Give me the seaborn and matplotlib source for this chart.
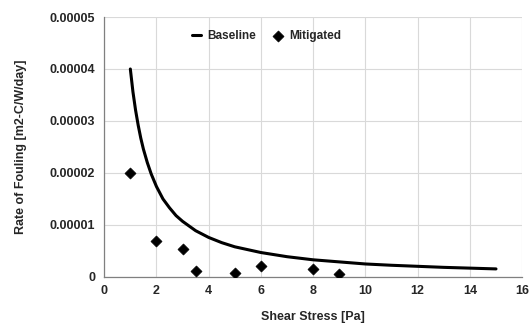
import matplotlib
matplotlib.use("Agg")
import matplotlib.pyplot as plt
import seaborn as sns
import pandas as pd
from matplotlib.ticker import FixedLocator, FixedFormatter

# Data
baseline_x = [1, 1.1, 1.2, 1.3, 1.4, 1.5, 1.65, 1.8, 2, 2.25, 2.5, 2.75, 3, 3.5, 4, 4.5, 5,
              6, 7, 8, 9, 10, 11, 12, 13, 14, 15]
baseline_y = [4.0e-5, 3.56e-5, 3.21e-5, 2.92e-5, 2.67e-5, 2.46e-5, 2.2e-5, 1.98e-5, 1.74e-5,
              1.5e-5, 1.33e-5, 1.18e-5, 1.07e-5, 8.9e-6, 7.6e-6, 6.6e-6, 5.8e-6,
              4.7e-6, 3.9e-6, 3.3e-6, 2.9e-6, 2.5e-6, 2.25e-6, 2.05e-6, 1.85e-6,
              1.7e-6, 1.55e-6]
mitigated_x = [1, 2, 3, 3.5, 5, 6, 8, 9]
mitigated_y = [2.0e-5, 7.0e-6, 5.3e-6, 1.2e-6, 8e-7, 2.2e-6, 1.5e-6, 5e-7]
x_ticks = [0, 2, 4, 6, 8, 10, 12, 14, 16]
y_ticks = [0, 0.00001, 0.00002, 0.00003, 0.00004, 0.00005]
y_tick_labels = ["0", "0.00001", "0.00002", "0.00003", "0.00004", "0.00005"]

sns.set_style("white")
plt.rcParams['font.family'] = ['Liberation Sans', 'DejaVu Sans']

fig = plt.figure(figsize=(5.29, 3.27), dpi=100)
ax = fig.add_axes([0.197, 0.153, 0.790, 0.795])

df_b = pd.DataFrame({"x": baseline_x, "y": baseline_y})
df_m = pd.DataFrame({"x": mitigated_x, "y": mitigated_y})

sns.lineplot(data=df_b, x="x", y="y", ax=ax, color="black", linewidth=2.2,
             label="Baseline", zorder=3)
sns.scatterplot(data=df_m, x="x", y="y", ax=ax, color="black", marker="D", s=32,
                edgecolor="black", label="Mitigated", zorder=4)

ax.set_xlim(0, 16)
ax.set_ylim(0, 0.00005)
ax.xaxis.set_major_locator(FixedLocator(x_ticks))
ax.yaxis.set_major_locator(FixedLocator(y_ticks))
ax.yaxis.set_major_formatter(FixedFormatter(y_tick_labels))
ax.grid(True, color="#d9d9d9", linewidth=0.8)
ax.set_axisbelow(True)

for s in ["top", "right"]:
    ax.spines[s].set_visible(False)
for s in ["left", "bottom"]:
    ax.spines[s].set_color("#808080")
    ax.spines[s].set_linewidth(0.9)

ax.tick_params(axis="both", labelsize=9, length=0)
ax.tick_params(axis="y", pad=6.5)
ax.tick_params(axis="x", pad=6)
for lab in ax.get_xticklabels() + ax.get_yticklabels():
    lab.set_fontweight("bold")

ax.set_xlabel("Shear Stress [Pa]", fontsize=9, fontweight="bold", labelpad=10)
ax.set_ylabel("Rate of Fouling [m2-C/W/day]", fontsize=9, fontweight="bold", labelpad=16)

leg = ax.legend(loc="center", bbox_to_anchor=(0.388, 0.928), ncol=2, frameon=False,
                fontsize=8.5, handlelength=0.8, columnspacing=1.5, handletextpad=0.5)
for t in leg.get_texts():
    t.set_fontweight("bold")

fig.savefig("out.png", dpi=100)
